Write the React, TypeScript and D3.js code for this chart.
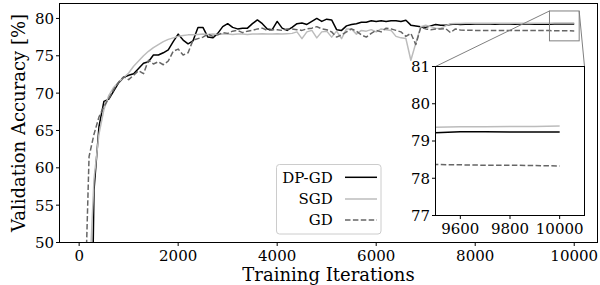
import * as d3 from 'd3';

// iterations every 100 steps
const iterations = d3.range(100, 10001, 100);

const dpgd = [
  10.5, 12, 57, 65.5, 68.9, 69.2, 70.3, 71.4, 72.1, 72.4,
  72.6, 73.3, 74.0, 74.2, 75.1, 75.1, 75.4, 75.8, 76.9, 77.9,
  77.1, 76.6, 77.0, 78.8, 78.8, 77.5, 77.4, 78.0, 78.9, 79.3,
  78.8, 78.6, 78.7, 78.7, 79.3, 79.8, 79.3, 78.6, 78.5, 79.6,
  78.7, 78.4, 78.8, 79.3, 79.4, 79.2, 79.6, 80.0, 79.6, 79.9,
  79.8, 78.5, 78.4, 79.0, 79.2, 79.3, 79.5, 79.5, 79.7, 79.6,
  79.7, 79.6, 79.7, 79.7, 79.6, 79.75, 79.1, 79.0, 78.9, 78.8,
  79.0, 79.2, 79.1, 79.1, 79.2, 79.25, 79.2, 79.22, 79.23, 79.24,
  79.24, 79.25, 79.24, 79.23, 79.24, 79.25, 79.24, 79.23, 79.24, 79.24,
  79.25, 79.23, 79.22, 79.22, 79.22, 79.25, 79.25, 79.24, 79.24, 79.24,
];

const sgd = [
  11, 44, 58.5, 64.5, 67.8, 69.7, 70.8, 71.5, 72.1, 72.7,
  73.6, 74.3, 75.0, 75.6, 76.1, 76.5, 76.9, 77.2, 77.4, 77.6,
  77.7, 77.8, 77.8, 77.85, 77.9, 77.85, 77.9, 77.85, 77.9, 77.9,
  77.85, 77.9, 77.9, 77.85, 77.9, 77.9, 77.95, 77.9, 77.9, 77.95,
  77.9, 77.95, 78.0, 78.2, 77.3, 78.2, 78.4, 77.4, 78.2, 78.3,
  77.5, 78.3, 77.3, 78.6, 78.6, 77.9, 78.4, 78.3, 78.5, 78.2,
  78.6, 78.5, 78.4, 77.6, 77.4, 77.3, 74.4, 76.7, 78.9, 79.1,
  78.9, 78.7, 78.65, 79.0, 79.3, 79.32, 79.33, 79.34, 79.35, 79.35,
  79.36, 79.35, 79.36, 79.36, 79.37, 79.36, 79.37, 79.37, 79.36, 79.37,
  79.37, 79.37, 79.37, 79.37, 79.37, 79.38, 79.38, 79.39, 79.39, 79.4,
];

const gd = [
  38, 61.5, 64.5, 66.8, 68.2, 69.3, 70.5, 71.5, 72.2, 71.8,
  72.4, 73.0, 72.6, 74.4, 73.9, 74.2, 73.8, 74.3, 75.6, 75.9,
  75.1, 75.4, 77.1, 77.3, 77.5, 77.9, 77.6, 77.8, 78.1, 78.0,
  78.3, 78.4, 78.1, 78.3, 78.4, 78.6, 78.7, 78.4, 78.5, 78.5,
  78.4, 78.6, 78.6, 78.5, 78.4, 78.6, 78.7, 78.9, 78.6, 78.5,
  78.2, 77.5, 77.8, 78.2, 78.6, 78.3, 77.8, 77.5, 78.0, 78.4,
  78.2, 78.7, 78.6, 78.4, 78.2, 77.6, 78.0, 76.5, 78.8, 78.6,
  78.5, 78.6, 78.6, 78.65, 78.1, 78.6, 78.45, 78.42, 78.41, 78.4,
  78.4, 78.39, 78.4, 78.39, 78.38, 78.38, 78.39, 78.38, 78.37, 78.38,
  78.37, 78.37, 78.37, 78.37, 78.37, 78.36, 78.35, 78.35, 78.34, 78.33,
];

const xTicks = [0, 2000, 4000, 6000, 8000, 10000];
const yTicks = [50, 55, 60, 65, 70, 75, 80];
const insetXTicks = [9600, 9800, 10000];
const insetYTicks = [77, 78, 79, 80, 81];

const series = [
  { name: 'DP-GD', values: dpgd, color: '#000000', dash: '' },
  { name: 'SGD', values: sgd, color: '#bcbcbc', dash: '' },
  { name: 'GD', values: gd, color: '#666666', dash: '5.5,2.4' },
];

const txt = { fontFamily: '"DejaVu Serif", "Liberation Serif", serif' };

export default function App() {
  const left = 59.5;
  const right = 597.5;
  const top = 3.5;
  const bottom = 242.5;

  const x = d3.scaleLinear().domain([-397, 10470]).range([left, right]);
  const y = d3.scaleLinear().domain([50, 82]).range([bottom, top]);

  const iLeft = 435.5;
  const iRight = 584.5;
  const iTop = 66.5;
  const iBottom = 215.5;
  const ix = d3.scaleLinear().domain([9500, 10100]).range([iLeft, iRight]);
  const iy = d3.scaleLinear().domain([77, 81]).range([iBottom, iTop]);

  const line = d3
    .line<number>()
    .x((_, i) => x(iterations[i]))
    .y((d) => y(d));
  const insetLine = d3
    .line<number>()
    .x((_, i) => ix(iterations[i]))
    .y((d) => iy(d));

  // zoom box in main axes coordinates
  const bx0 = x(9500);
  const bx1 = x(10100);
  const by0 = y(81);
  const by1 = y(77);

  const legendRows = [177.3, 199, 220];

  return (
    <svg width={600} height={285} style={{ position: 'fixed', left: 0, top: 0, background: '#fff' }}>
      <defs>
        <clipPath id="main-clip">
          <rect x={left} y={top} width={right - left} height={bottom - top} />
        </clipPath>
        <clipPath id="inset-clip">
          <rect x={iLeft} y={iTop} width={iRight - iLeft} height={iBottom - iTop} />
        </clipPath>
      </defs>

      {/* main lines */}
      <g clipPath="url(#main-clip)">
        {series.map((s) => (
          <path
            key={s.name}
            d={line(s.values) ?? ''}
            fill="none"
            stroke={s.color}
            strokeWidth={1.5}
            strokeDasharray={s.dash}
            strokeLinejoin="round"
          />
        ))}
      </g>

      {/* main spines */}
      <rect x={left} y={top} width={right - left} height={bottom - top} fill="none" stroke="#000" strokeWidth={1} />

      {/* x axis */}
      {xTicks.map((t) => (
        <g key={t}>
          <line x1={x(t)} x2={x(t)} y1={bottom} y2={bottom + 3.5} stroke="#000" />
          <text x={x(t)} y={261} textAnchor="middle" fontSize={15} fill="#000" style={txt}>
            {t}
          </text>
        </g>
      ))}
      {/* y axis */}
      {yTicks.map((t) => (
        <g key={t}>
          <line x1={left - 3.5} x2={left} y1={y(t)} y2={y(t)} stroke="#000" />
          <text x={54} y={y(t)} dy="0.36em" textAnchor="end" fontSize={15} fill="#000" style={txt}>
            {t}
          </text>
        </g>
      ))}

      <text x={(left + right) / 2} y={280.5} textAnchor="middle" fontSize={18} fill="#000" style={txt}>
        Training Iterations
      </text>
      <text
        transform={`translate(25,${(top + bottom) / 2}) rotate(-90)`}
        textAnchor="middle"
        fontSize={18}
        fill="#000"
        style={txt}
      >
        Validation Accuracy [%]
      </text>

      {/* legend */}
      <rect x={276.5} y={164.5} width={104.5} height={69.5} rx={3} fill="#fff" fillOpacity={0.8} stroke="#cccccc" />
      {series.map((s, i) => (
        <g key={s.name}>
          <text x={332.7} y={legendRows[i]} dy="0.36em" textAnchor="end" fontSize={15} fill="#000" style={txt}>
            {s.name}
          </text>
          <line
            x1={345}
            x2={377}
            y1={legendRows[i]}
            y2={legendRows[i]}
            stroke={s.color}
            strokeWidth={1.5}
            strokeDasharray={s.dash}
          />
        </g>
      ))}

      {/* zoom indicator and connectors */}
      <rect x={bx0} y={by0} width={bx1 - bx0} height={by1 - by0} fill="none" stroke="#808080" strokeWidth={1} />
      <line x1={bx0} y1={by0} x2={iLeft} y2={iTop} stroke="#808080" strokeWidth={1} />
      <line x1={bx1} y1={by0} x2={iRight} y2={iTop} stroke="#808080" strokeWidth={1} />

      {/* inset */}
      <rect x={iLeft} y={iTop} width={iRight - iLeft} height={iBottom - iTop} fill="#fff" />
      <g clipPath="url(#inset-clip)">
        {series.map((s) => (
          <path
            key={s.name}
            d={insetLine(s.values) ?? ''}
            fill="none"
            stroke={s.color}
            strokeWidth={1.5}
            strokeDasharray={s.dash}
          />
        ))}
      </g>
      <rect x={iLeft} y={iTop} width={iRight - iLeft} height={iBottom - iTop} fill="none" stroke="#000" strokeWidth={1} />
      {insetXTicks.map((t) => (
        <g key={t}>
          <line x1={ix(t)} x2={ix(t)} y1={iBottom} y2={iBottom + 3.5} stroke="#000" />
          <text x={ix(t)} y={234} textAnchor="middle" fontSize={15} fill="#000" style={txt}>
            {t}
          </text>
        </g>
      ))}
      {insetYTicks.map((t) => (
        <g key={t}>
          <line x1={iLeft - 3.5} x2={iLeft} y1={iy(t)} y2={iy(t)} stroke="#000" />
          <text x={430} y={iy(t)} dy="0.36em" textAnchor="end" fontSize={15} fill="#000" style={txt}>
            {t}
          </text>
        </g>
      ))}
    </svg>
  );
}
